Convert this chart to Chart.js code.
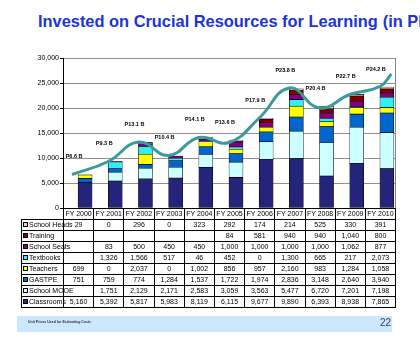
<!DOCTYPE html>
<html>
<head>
<meta charset="utf-8">
<script src="https://cdn.jsdelivr.net/npm/chart.js@4/dist/chart.umd.min.js"></script>
<style>
  html, body { margin:0; padding:0; background:#fff; }
  body { width:420px; height:341px; position:relative; overflow:hidden; font-family:"Liberation Sans", Arial, sans-serif; }
  #title { position:absolute; left:38px; top:12px; white-space:nowrap; font-weight:bold; font-size:16.4px; color:#1A35D8; }
  #title span { margin-left:5px; }
  #cv { position:absolute; left:0; top:0; }
  #tbl { position:absolute; left:21px; top:208px; width:374px; border-collapse:collapse; table-layout:fixed; font-size:7px; }
  #tbl td { border:1px solid #000; height:10px; padding:0; text-align:center; line-height:10px; white-space:nowrap; overflow:visible; }
  #tbl td.lab { text-align:left; padding-left:1px; }
  #tbl td.blank { border:none; }
  .mk { display:inline-block; width:3px; height:3px; border:0.5px solid #000; margin-right:1px; vertical-align:middle; position:relative; top:-1px; }
  #foot { position:absolute; left:17px; top:316px; width:375px; height:16px; background:#CCE8FF; }
  #foottxt { position:absolute; left:11px; top:4px; font-size:3.5px; font-weight:bold; color:#333; white-space:nowrap; }
  #pg { position:absolute; right:1px; top:1px; font-size:10px; color:#334466; }
</style>
</head>
<body>
<div id="title">Invested on Crucial Resources for Learning<span>(in PB</span></div>
<canvas id="cv" width="420" height="341"></canvas>
<table id="tbl"></table>
<div id="foot"><div id="foottxt">Unit Prices Used for Estimating Costs</div><div id="pg">22</div></div>
<script>
const years = ['FY 2000','FY 2001','FY 2002','FY 2003','FY 2004','FY 2005','FY 2006','FY 2007','FY 2008','FY 2009','FY 2010'];
const schoolHeads = [29,0,296,0,323,292,174,214,525,330,391];
const training    = [null,null,null,null,null,84,581,940,940,1040,800];
const schoolSeats = [null,83,500,450,450,1000,1000,1000,1000,1062,877];
const textbooks   = [null,1326,1566,517,46,452,0,1300,665,217,2073];
const teachers    = [699,0,2037,0,1002,856,957,2160,983,1284,1058];
const gastpe      = [751,759,774,1284,1537,1722,1974,2836,3148,2640,3940];
const schoolMooe  = [null,1751,2129,2171,2583,3059,3563,5477,6720,7201,7198];
const classrooms  = [5160,5392,5817,5983,8119,6115,9677,9890,6393,8938,7865];
const totalLabels = ['P6.6 B','P9.3 B','P13.1 B','P10.4 B','P14.1 B','P13.6 B','P17.9 B','P23.8 B','P20.4 B','P22.7 B','P24.2 B'];
const trendX = [-0.2, 1, 2, 3, 4, 5, 6, 7, 8, 9, 10, 10.38];
const trendY = [6700, 9300, 13200, 10500, 14100, 13100, 18000, 24000, 20000, 22700, 24300, 26800];
const yMax = 30000, yStep = 5000;

const series = [
  {name:'School Heads', data:schoolHeads, color:'#D8D8D8'},
  {name:'Training',     data:training,    color:'#800000'},
  {name:'School Seats', data:schoolSeats, color:'#800080'},
  {name:'Textbooks',    data:textbooks,   color:'#33F0F0'},
  {name:'Teachers',     data:teachers,    color:'#FFFF00'},
  {name:'GASTPE',       data:gastpe,      color:'#0066CC'},
  {name:'School MOOE',  data:schoolMooe,  color:'#CCFFFF'},
  {name:'Classrooms',   data:classrooms,  color:'#24247A'}
];

// table
const tbl = document.getElementById('tbl');
let html = '<colgroup><col style="width:42px">' + years.map(()=>'<col style="width:30.2px">').join('') + '</colgroup>';
html += '<tr><td class="blank"></td>' + years.map(y=>'<td>'+y+'</td>').join('') + '</tr>';
series.forEach(s=>{
  html += '<tr><td class="lab"><span class="mk" style="background:'+s.color+'"></span>'+s.name+'</td>' +
    s.data.map(v=>'<td>'+(v===null?'':v.toLocaleString('en-US'))+'</td>').join('') + '</tr>';
});
tbl.innerHTML = html;

const barSets = series.slice().reverse().map(s=>({
  type:'bar', label:s.name, data:s.data, backgroundColor:s.color,
  borderColor:'#000', borderWidth:0.6, borderSkipped:false,
  barThickness:14, xAxisID:'x', yAxisID:'y'
}));

const labelPlugin = {
  id:'labels',
  afterDatasetsDraw(chart){
    const ctx = chart.ctx, x = chart.scales.x, y = chart.scales.y;
    ctx.save();
    ctx.font = 'bold 5.5px "Liberation Sans", Arial';
    ctx.fillStyle = '#000';
    ctx.textAlign = 'center';
    ctx.textBaseline = 'middle';
    years.forEach((yr,i)=>{
      const tot = series.reduce((a,s)=>a+(s.data[i]||0),0);
      ctx.fillText(totalLabels[i], x.getPixelForValue(i)-4, y.getPixelForValue(tot)-18);
    });
    const a = chart.chartArea;
    ctx.strokeStyle = '#888'; ctx.lineWidth = 1;
    ctx.beginPath(); ctx.moveTo(Math.round(a.right)+0.5, a.top); ctx.lineTo(Math.round(a.right)+0.5, a.bottom); ctx.stroke();
    ctx.restore();
  }
};

new Chart(document.getElementById('cv'), {
  data:{
    labels:years,
    datasets:[
      {type:'line', label:'trend', data:trendX.map((v,i)=>({x:v,y:trendY[i]})), xAxisID:'xl', yAxisID:'yl',
       borderColor:'#3A9A9C', borderWidth:3, pointRadius:0, tension:0.45, fill:false, order:-1},
      ...barSets
    ]
  },
  options:{
    responsive:false, animation:false, devicePixelRatio:1,
    layout:{padding:{left:0, right:25, top:58, bottom:133}},
    plugins:{legend:{display:false}, tooltip:{enabled:false}},
    scales:{
      x:{stacked:true, display:false, offset:true},
      xl:{type:'linear', display:false, min:-0.5, max:10.5},
      yl:{display:false, min:0, max:yMax},
      y:{stacked:true, min:0, max:yMax,
         ticks:{stepSize:yStep, color:'#000', padding:1, font:{size:7, family:'"Liberation Sans", Arial'},
                callback:v=>v.toLocaleString('en-US')},
         grid:{color:'#909090', tickColor:'#000', tickLength:3, lineWidth:1},
         border:{color:'#000', width:1},
         afterFit(s){ s.width = 63; }
      }
    }
  },
  plugins:[labelPlugin]
});
</script>
</body>
</html>
